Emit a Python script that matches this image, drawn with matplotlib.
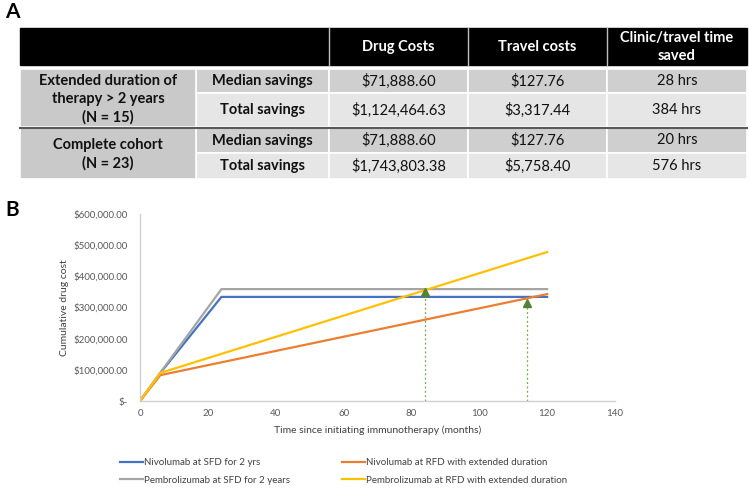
import matplotlib
matplotlib.use("Agg")
import matplotlib.pyplot as plt
from matplotlib.patches import Rectangle
from matplotlib.ticker import FuncFormatter

plt.rcParams['font.family'] = ['Lato', 'DejaVu Sans']

# ---- panel A data ----
header = ["Drug Costs", "Travel costs", "Clinic/travel time\nsaved"]
groups = ["Extended duration of\ntherapy > 2 years\n(N = 15)", "Complete cohort\n(N = 23)"]
row_labels = ["Median savings", "Total savings", "Median savings", "Total savings"]
drug_costs = ["$71,888.60", "$1,124,464.63", "$71,888.60", "$1,743,803.38"]
travel_costs = ["$127.76", "$3,317.44", "$127.76", "$5,758.40"]
time_saved = ["28 hrs", "384 hrs", "20 hrs", "576 hrs"]

# ---- panel B data ----
sfd_months = [0, 6, 24, 120]
nivo_sfd = [0, 90000, 334000, 334000]
pembro_sfd = [0, 91000, 359000, 359000]
rfd_months = [0, 6, 120]
nivo_rfd = [0, 83000, 343000]
pembro_rfd = [0, 90000, 478000]
breakeven_months = [84, 114]
breakeven_cost = [355000, 320000]

fig = plt.figure(figsize=(7.49, 4.88), dpi=100)

# overlay in pixel coords for the table
bg = fig.add_axes([0, 0, 1, 1])
bg.set_xlim(0, 749)
bg.set_ylim(488, 0)
bg.axis('off')

bg.text(5, 12, "A", fontsize=15, fontweight='bold', va='center', ha='left')
bg.text(5, 210, "B", fontsize=15, fontweight='bold', va='center', ha='left')

col_x = [20, 196, 329, 468, 607, 747]
row_y = [(69, 93), (93, 127), (128, 153), (153, 179)]
row_colors = ["#cfcfcf", "#e6e6e6", "#cfcfcf", "#e6e6e6"]
group_color = "#c9c9c9"

# header
bg.add_patch(Rectangle((col_x[0], 28), col_x[-1] - col_x[0], 37, color='black'))
for cx in col_x[2:-1]:
    bg.plot([cx, cx], [28, 65], color='#bfbfbf', lw=1)
for i, h in enumerate(header):
    bg.text((col_x[i + 2] + col_x[i + 3]) / 2, 47, h, color='white', fontsize=10.5,
            fontweight='bold', ha='center', va='center', linespacing=1.4)

# body
for r, (y0, y1) in enumerate(row_y):
    cells = [row_labels[r], drug_costs[r], travel_costs[r], time_saved[r]]
    for c, txt in enumerate(cells):
        x0, x1 = col_x[c + 1], col_x[c + 2]
        bg.add_patch(Rectangle((x0, y0), x1 - x0, y1 - y0, facecolor=row_colors[r],
                               edgecolor='white', lw=1.2))
        bg.text((x0 + x1) / 2, (y0 + y1) / 2, txt, fontsize=10.5, ha='center', va='center',
                fontweight='bold' if c == 0 else 'normal', color='#111111')

for g, (ra, rb) in enumerate([(0, 1), (2, 3)]):
    y0, y1 = row_y[ra][0], row_y[rb][1]
    bg.add_patch(Rectangle((col_x[0], y0), col_x[1] - col_x[0], y1 - y0, facecolor=group_color,
                           edgecolor='white', lw=1.2))
    bg.text((col_x[0] + col_x[1]) / 2, (y0 + y1) / 2 + 1, groups[g], fontsize=10.5,
            fontweight='bold', ha='center', va='center', linespacing=1.35, color='#111111')

bg.plot([col_x[0], col_x[-1]], [127.5, 127.5], color='#595959', lw=1.5)

# ---- chart ----
ax = fig.add_axes([140 / 749, 1 - 401 / 488, 475 / 749, 187 / 488])
ax.plot(sfd_months, nivo_sfd, color='#4472C4', lw=1.6, label='Nivolumab at SFD for 2 yrs')
ax.plot(sfd_months, pembro_sfd, color='#A5A5A5', lw=1.6, label='Pembrolizumab at SFD for 2 years')
ax.plot(rfd_months, nivo_rfd, color='#ED7D31', lw=1.6, label='Nivolumab at RFD with extended duration')
ax.plot(rfd_months, pembro_rfd, color='#FFC000', lw=1.6, label='Pembrolizumab at RFD with extended duration')

for bx, by in zip(breakeven_months, breakeven_cost):
    ax.plot([bx, bx], [0, by], color='#70AD47', lw=0.9, ls=(0, (1.5, 2)))
    ax.plot([bx], [by - 6000], marker='^', ms=5.5, color='#548235', ls='none')

ax.set_xlim(0, 140)
ax.set_ylim(0, 600000)
ax.set_xticks(range(0, 141, 20))
ax.set_yticks(range(0, 600001, 100000))
ax.yaxis.set_major_formatter(FuncFormatter(lambda v, p: "$-" if v == 0 else f"${v:,.2f}"))
ax.tick_params(length=0, labelsize=7, labelcolor='#595959')
ax.tick_params(axis='y', pad=9)
ax.tick_params(axis='x', pad=6)
for s in ['top', 'right']:
    ax.spines[s].set_visible(False)
for s in ['left', 'bottom']:
    ax.spines[s].set_color('#d0d0d0')
    ax.spines[s].set_linewidth(1)
ax.set_xlabel("Time since initiating immunotherapy (months)", fontsize=7.5, color='#404040', labelpad=5)
ax.set_ylabel("Cumulative drug cost", fontsize=7.5, color='#404040', labelpad=3)

h, l = ax.get_legend_handles_labels()
fig.legend(h, l, ncol=2, loc='center', bbox_to_anchor=(343.5 / 749, 1 - 471.5 / 488),
           frameon=False, fontsize=7, labelcolor='#404040', handlelength=2.4,
           handletextpad=0.1, columnspacing=5.3, labelspacing=0.9)

fig.savefig("out.png", dpi=100)
